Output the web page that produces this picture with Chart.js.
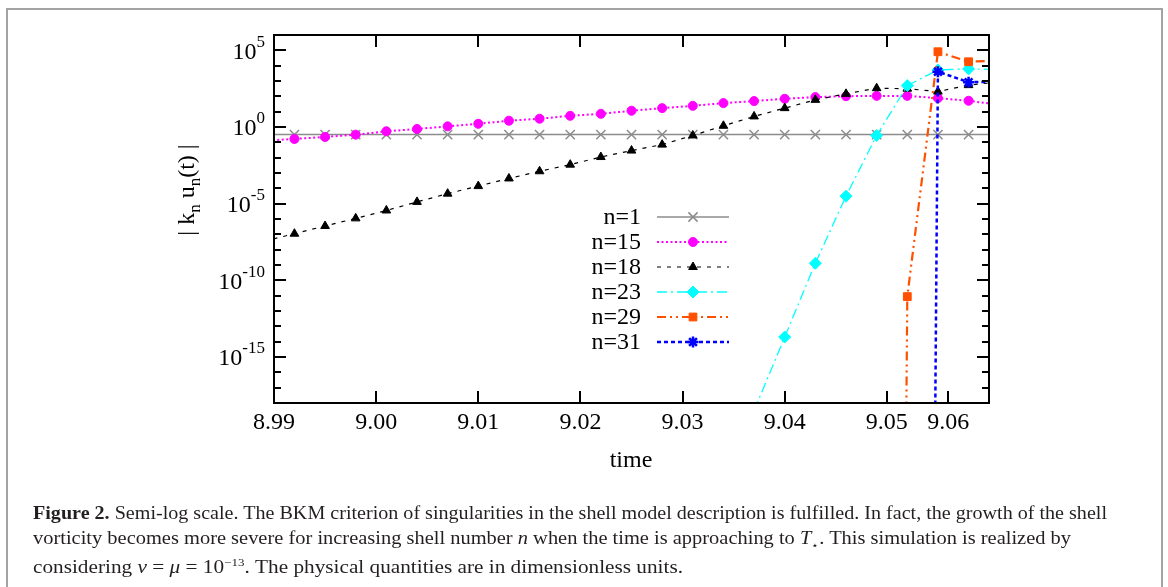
<!DOCTYPE html>
<html>
<head>
<meta charset="utf-8">
<script src="https://cdn.jsdelivr.net/npm/chart.js@4.4.0/dist/chart.umd.min.js"></script>
<style>
  body { margin: 0; background: #fff; }
  #wrap { position: relative; width: 1168px; height: 587px; overflow: hidden; }
  #frame { position: absolute; left: 6px; top: 8px; width: 1153px; height: 640px; border: 2px solid #a3a3a3; }
  canvas { position: absolute; left: 0; top: 0; }
  .cap { position: absolute; left: 33px; font-family: "Liberation Serif", serif; font-size: 18px;
         color: #231f20; white-space: nowrap; transform-origin: 0 50%; line-height: 20px; }
</style>
</head>
<body>
<div id="wrap">
  <div id="frame"></div>
  <canvas id="chart" width="1168" height="587"></canvas>
  <div class="cap" id="cap1" data-w="1074" style="top:503px"><b>Figure 2.</b> Semi-log scale. The BKM criterion of singularities in the shell model description is fulfilled. In fact, the growth of the shell</div>
  <div class="cap" id="cap2" data-w="1038" style="top:528px">vorticity becomes more severe for increasing shell number <i>n</i> when the time is approaching to <i>T</i><sub style="font-size:11px">&#8902;</sub>. This simulation is realized by</div>
  <div class="cap" id="cap3" data-w="650" style="top:552px">considering <i>&nu;</i> = <i>&mu;</i> = 10<sup style="font-size:11px">&minus;13</sup>. The physical quantities are in dimensionless units.</div>
</div>
<script>
// sample times (first and last lie just outside the plotted range)
const times = [8.989, 8.992, 8.995, 8.998, 9.001, 9.004, 9.007, 9.010, 9.013, 9.016, 9.019, 9.022,
               9.025, 9.028, 9.031, 9.034, 9.037, 9.040, 9.043, 9.046, 9.049, 9.052, 9.055, 9.058, 9.061];

const n1  = [0.32, 0.32, 0.32, 0.32, 0.32, 0.32, 0.32, 0.32, 0.32, 0.32, 0.32, 0.32,
             0.32, 0.32, 0.32, 0.32, 0.32, 0.32, 0.32, 0.32, 0.32, 0.32, 0.32, 0.32, 0.32];
const n15 = [0.126, 0.166, 0.224, 0.316, 0.525, 0.741, 1.10, 1.62, 2.57, 3.47, 5.37, 7.24,
             11.5, 17.0, 24.0, 36.3, 49.0, 69.2, 89.1, 102, 107, 107, 75.9, 51.3, 28.2];
const n18 = [3.5e-8, 1.1e-7, 3.5e-7, 1.1e-6, 3.6e-6, 1.3e-5, 4.5e-5, 1.4e-4, 4.4e-4, 1.3e-3, 3.5e-3, 1.1e-2,
             2.9e-2, 7.1e-2, 0.28, 1.2, 4.9, 17, 59, 145, 339, 316, 204, 537, 891];
const n23 = [null, null, null, null, null, null, null, null, null, null, null, null,
             null, null, null, null, 3.2e-19, 2.0e-14, 1.3e-9, 3.1e-5, 0.28, 501, 5250, 6170, 5600];
const n29 = [null, null, null, null, null, null, null, null, null, null, null, null,
             null, null, null, null, null, null, null, null, 1e-250, 8.7e-12, 8.1e4, 1.8e4, 2.2e4];
const n31 = [null, null, null, null, null, null, null, null, null, null, null, null,
             null, null, null, null, null, null, null, null, null, 1e-250, 4070, 832, 912];

const xTicks = [8.99, 9.00, 9.01, 9.02, 9.03, 9.04, 9.05, 9.056];
const xTickLabels = ["8.99", "9.00", "9.01", "9.02", "9.03", "9.04", "9.05", "9.06"];
const yTickExps = [5, 0, -5, -10, -15];

const SERIF = '"Liberation Serif", "Times New Roman", serif';

function series(label, vals, color, dash, width, style, radius, order, pbw) {
  return {
    label,
    data: times.map((t, i) => ({ x: t, y: vals[i] })),
    borderColor: color,
    backgroundColor: color,
    borderWidth: width,
    borderDash: dash,
    pointStyle: style,
    pointRadius: radius,
    pointBackgroundColor: color,
    pointBorderColor: color,
    pointBorderWidth: pbw,
    tension: 0,
    fill: false,
    spanGaps: false,
    clip: 0,
    order,
  };
}

const datasets = [
  series("n=1",  n1,  "#8c8c8c", [],                 1.5, "crossRot", 6.5, 5, 1.5),
  series("n=15", n15, "#ff00ff", [2, 2.5],           2,   "circle",   4.5, 4, 1),
  series("n=18", n18, "#000000", [4, 6],             1.2, "triangle", 5,   3, 1),
  series("n=23", n23, "#00ffff", [10, 4, 2, 4],      1.3, "rectRot",  6,   2, 1),
  series("n=29", n29, "#ff5000", [9, 4, 2, 4, 2, 4], 2.2, "rect",     5.5, 1, 1),
  series("n=31", n31, "#0000ff", [4, 3],             2.5, "star",     5.5, 0, 2.5),
];

const decor = {
  id: "decor",
  afterDatasetsDraw(chart) {
    const ctx = chart.ctx;
    const a = chart.chartArea;
    const xs = chart.scales.x, ys = chart.scales.y;
    ctx.save();

    // inward ticks on all four sides
    ctx.strokeStyle = "#000";
    ctx.lineWidth = 2;
    ctx.setLineDash([]);
    ctx.beginPath();
    for (let e = -17; e <= 5; e++) {
      const y = Math.round(ys.getPixelForValue(Math.pow(10, e)));
      const len = e % 5 === 0 ? 12 : 7;
      ctx.moveTo(a.left, y); ctx.lineTo(a.left + len, y);
      ctx.moveTo(a.right, y); ctx.lineTo(a.right - len, y);
    }
    xTicks.forEach(v => {
      const x = Math.round(xs.getPixelForValue(v));
      ctx.moveTo(x, a.bottom); ctx.lineTo(x, a.bottom - 12);
      ctx.moveTo(x, a.top); ctx.lineTo(x, a.top + 12);
    });
    ctx.stroke();
    ctx.strokeRect(a.left, a.top, a.right - a.left, a.bottom - a.top);

    // tick labels
    ctx.fillStyle = "#000";
    ctx.font = "24px " + SERIF;
    ctx.textAlign = "center";
    ctx.textBaseline = "middle";
    xTicks.forEach((v, i) => {
      ctx.fillText(xTickLabels[i], xs.getPixelForValue(v), a.bottom + 20);
    });
    yTickExps.forEach(e => {
      const y = ys.getPixelForValue(Math.pow(10, e));
      const ex = String(e);
      ctx.font = "17px " + SERIF;
      const we = ctx.measureText(ex).width;
      ctx.textAlign = "left";
      ctx.fillText(ex, 265 - we, y - 8);
      ctx.font = "24px " + SERIF;
      ctx.textAlign = "right";
      ctx.fillText("10", 265 - we, y + 2);
    });

    // axis titles
    ctx.textAlign = "center";
    ctx.font = "24px " + SERIF;
    ctx.fillText("time", (a.left + a.right) / 2 - 0.5, 461);

    const parts = [["| k", 24, 0], ["n", 17, 6], [" u", 24, 0], ["n", 17, 6], ["(t) |", 24, 0]];
    ctx.translate(186, 190);
    ctx.rotate(-Math.PI / 2);
    let total = 0;
    parts.forEach(p => { ctx.font = p[1] + "px " + SERIF; total += ctx.measureText(p[0]).width; });
    let cx = -total / 2;
    ctx.textAlign = "left";
    ctx.textBaseline = "alphabetic";
    parts.forEach(p => {
      ctx.font = p[1] + "px " + SERIF;
      ctx.fillText(p[0], cx, 8 + p[2]);
      cx += ctx.measureText(p[0]).width;
    });
    ctx.restore();

    // key, gnuplot style: label on the left, sample on the right
    ctx.save();
    chart.data.datasets.forEach((ds, i) => {
      const y = 217 + 25 * i;
      ctx.font = "24px " + SERIF;
      ctx.fillStyle = "#000";
      ctx.textAlign = "right";
      ctx.textBaseline = "middle";
      ctx.fillText(ds.label, 641, y + 1);
      ctx.strokeStyle = ds.borderColor;
      ctx.lineWidth = ds.borderWidth;
      ctx.setLineDash(ds.borderDash);
      ctx.beginPath();
      ctx.moveTo(657, y); ctx.lineTo(729, y);
      ctx.stroke();
      ctx.setLineDash([]);
      ctx.fillStyle = ds.pointBackgroundColor;
      ctx.strokeStyle = ds.pointBorderColor;
      ctx.lineWidth = ds.pointBorderWidth;
      Chart.helpers.drawPoint(ctx, {
        pointStyle: ds.pointStyle, radius: ds.pointRadius, rotation: 0, borderWidth: ds.pointBorderWidth,
      }, 693, y);
    });
    ctx.restore();
  },
};

new Chart(document.getElementById("chart"), {
  type: "line",
  data: { datasets },
  options: {
    responsive: false,
    animation: false,
    layout: { padding: { left: 274, right: 179, top: 35, bottom: 184 } },
    plugins: { legend: { display: false }, tooltip: { enabled: false } },
    scales: {
      x: { type: "linear", min: 8.99, max: 9.06, display: false },
      y: { type: "logarithmic", min: 1e-18, max: 1e6, display: false },
    },
  },
  plugins: [decor],
});

// squeeze each caption line to the width it has in the figure
document.querySelectorAll(".cap").forEach(el => {
  const w = el.getBoundingClientRect().width;
  el.style.transform = "scaleX(" + (Number(el.dataset.w) / w) + ")";
});
</script>
</body>
</html>
